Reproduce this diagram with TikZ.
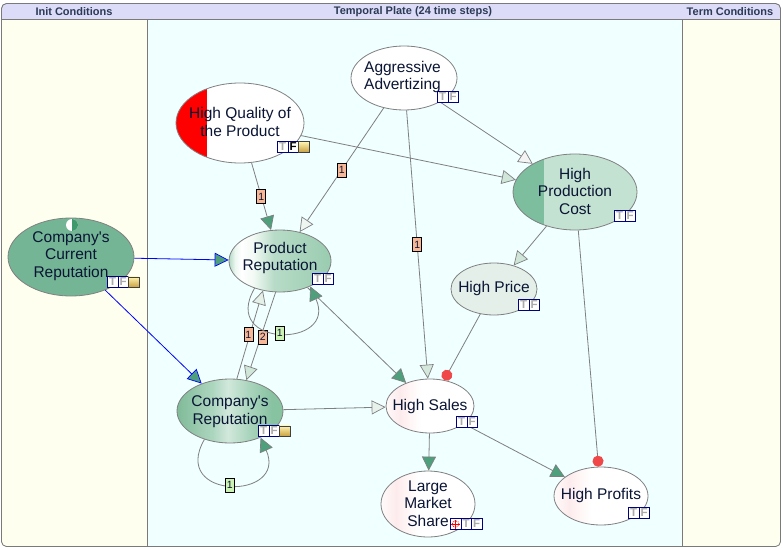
\documentclass[tikz,border=0pt]{standalone}
\usepackage{fontspec}
\setmainfont{Liberation Sans}
\usetikzlibrary{arrows.meta,shapes.geometric}
\definecolor{framegray}{HTML}{7A7A7A}
\definecolor{hdr}{HTML}{DCDCF8}
\definecolor{hdrtxt}{HTML}{2B3A55}
\definecolor{ivorybg}{HTML}{FFFFF0}
\definecolor{azurebg}{HTML}{F0FFFF}
\definecolor{ellgray}{HTML}{808080}
\definecolor{edgegray}{HTML}{7F7F7F}
\definecolor{tgreen}{HTML}{4E9F7C}
\definecolor{txt}{HTML}{0A1535}
\definecolor{salmon}{HTML}{F8B898}
\definecolor{lgreen}{HTML}{CCF2B4}
\definecolor{navyc}{HTML}{000080}
\definecolor{dotred}{HTML}{F04848}
\definecolor{ccrfill}{HTML}{74B595}
\definecolor{hpcdark}{HTML}{7DBE9F}
\definecolor{hpclight}{HTML}{C4E2D2}
\definecolor{hpfill}{HTML}{E3EFE8}
\definecolor{tfgray}{HTML}{AAAAAA}
\definecolor{notetop}{HTML}{FFF4B0}
\definecolor{notebot}{HTML}{C8A040}
\definecolor{icongreen}{HTML}{3E9A6C}
\definecolor{tipA}{HTML}{CFE6D9}
\definecolor{tipB}{HTML}{EEF6F2}
\definecolor{tipC}{HTML}{D4E8DC}
\definecolor{tipD}{HTML}{F4F4F4}
\definecolor{tipE}{HTML}{CFE5D8}
\definecolor{tipF}{HTML}{E8F2EC}
\definecolor{tipG}{HTML}{E4F0E8}
\definecolor{tipH}{HTML}{D0E6D8}
\pgfdeclarehorizontalshading{prshade}{100bp}{rgb(0bp)=(0.70,0.85,0.77); rgb(25bp)=(0.70,0.85,0.77); rgb(28bp)=(0.93,0.97,0.95); rgb(31bp)=(1,1,1); rgb(37bp)=(0.95,0.98,0.96); rgb(47bp)=(0.72,0.86,0.78); rgb(75bp)=(0.60,0.80,0.69); rgb(100bp)=(0.60,0.80,0.69)}
\pgfdeclarehorizontalshading{crshade}{100bp}{rgb(0bp)=(0.50,0.73,0.60); rgb(25bp)=(0.50,0.73,0.60); rgb(42bp)=(0.68,0.84,0.75); rgb(49bp)=(0.82,0.91,0.86); rgb(58bp)=(0.68,0.84,0.75); rgb(70bp)=(0.53,0.76,0.63); rgb(100bp)=(0.53,0.76,0.63)}
\pgfdeclarehorizontalshading{pinkshade}{100bp}{rgb(0bp)=(1,0.98,0.98); rgb(25bp)=(1,0.98,0.98); rgb(33bp)=(0.99,0.92,0.93); rgb(38bp)=(1,0.96,0.96); rgb(45bp)=(1,1,1); rgb(100bp)=(1,1,1)}
\newcommand\nodefont{\fontsize{15.5}{17.5}\selectfont}
\newcommand\labfont{\fontsize{10.5}{12}\selectfont}
\newcommand\hdrfont{\bfseries\fontsize{11}{13}\selectfont}
\newcommand\tffont{\bfseries\fontsize{11.5}{11.5}\selectfont}
\newcommand\tfbox[4]{\node[tfcell,anchor=west] (#1T) at (#2,#3) {T};\node[tfcell,anchor=west,text=#4] (#1F) at (#2+10.5,#3) {F};}
\newcommand\stickynote[3]{\node[noteicon,anchor=west] (#1) at (#2,#3) {};}
\tikzset{
  ell/.style={ellipse, draw=ellgray, line width=0.8pt, inner sep=0pt},
  ntext/.style={align=center, text=txt, font=\nodefont, inner sep=0pt},
  link/.style={draw=edgegray, line width=0.8pt},
  bluelink/.style={draw=blue, line width=0.8pt},
  tri/.style={-{Triangle[length=14pt,width=14pt,fill=#1,line width=0.7pt]}},
  reddot/.style={-{Circle[length=11pt,color=dotred,fill=dotred]}},
  lab/.style={draw=black, line width=0.6pt, fill=#1, font=\labfont, text=txt, inner sep=0pt, minimum width=9pt, minimum height=14pt},
  tfcell/.style={rectangle, draw=navyc, line width=0.7pt, fill=white, minimum width=10.5pt, minimum height=10.5pt, inner sep=0pt, font=\tffont, text=tfgray},
  noteicon/.style={rectangle, minimum width=10.5pt, minimum height=10.5pt, inner sep=0pt, top color=notetop, bottom color=notebot, draw=black!75, line width=0.5pt},
  hdrtext/.style={font=\hdrfont, text=hdrtxt, inner sep=0pt}
}
\begin{document}
\begin{tikzpicture}[x=1pt,y=-1pt]
\useasboundingbox (0,0) rectangle (783,548);
% frame and columns
\draw[framegray, fill=hdr, rounded corners=5pt] (1.5,546.5) rectangle (780.5,3.5);
\fill[ivorybg] (2,19.5) rectangle (147.5,546);
\fill[azurebg] (147.5,19.5) rectangle (682.5,546);
\fill[ivorybg] (682.5,19.5) rectangle (780,546);
\draw[framegray, line width=0.8pt] (1.5,19.5) -- (780.5,19.5);
\draw[framegray, line width=0.8pt] (147.5,19.5) -- (147.5,546.5);
\draw[framegray, line width=0.8pt] (682.5,19.5) -- (682.5,546.5);
\draw[framegray, line width=0.8pt, rounded corners=5pt] (1.5,546.5) rectangle (780.5,3.5);
\node[hdrtext] (h1) at (74,11.5) {Init Conditions};
\node[hdrtext] (h2) at (413,11.5) {Temporal Plate (24 time steps)};
\node[hdrtext] (h3) at (730,11.5) {Term Conditions};
% nodes
\node[ell, minimum width=126pt, minimum height=78pt, fill=ccrfill] (ccr) at (71,257) {};
\node[ntext] (ccr-t) at (71,256) {Company\textquotesingle s\\Current\\Reputation};
\node[ell, minimum width=102pt, minimum height=62pt, shade, shading=prshade] (pr) at (280,261) {};
\node[ntext] (pr-t) at (280,258) {Product\\Reputation};
\node[ell, minimum width=128pt, minimum height=80pt, fill=white,
  path picture={\fill[red] (path picture bounding box.south west) rectangle ([xshift=31pt]path picture bounding box.north west);}] (hq) at (240,123) {};
\node[ntext] (hq-t) at (240,122) {High Quality of\\the Product};
\node[ell, minimum width=106pt, minimum height=64pt, fill=white] (aa) at (404,78) {};
\node[ntext] (aa-t) at (402.5,77) {Aggressive\\Advertizing};
\node[ell, minimum width=124pt, minimum height=76pt, fill=hpclight,
  path picture={\fill[hpcdark] (path picture bounding box.south west) rectangle ([xshift=31pt]path picture bounding box.north west);}] (hpc) at (575,192) {};
\node[ntext] (hpc-t) at (575,191) {High\\Production\\Cost};
\node[ell, minimum width=86pt, minimum height=52pt, fill=hpfill] (hp) at (494,289) {};
\node[ntext] (hp-t) at (494,288) {High Price};
\node[ell, minimum width=106pt, minimum height=64pt, shade, shading=crshade] (cr) at (230,411) {};
\node[ntext] (cr-t) at (230,411.5) {Company\textquotesingle s\\Reputation};
\node[ell, minimum width=88pt, minimum height=54pt, shade, shading=pinkshade] (hs) at (430,406) {};
\node[ntext] (hs-t) at (430,406) {High Sales};
\node[ell, minimum width=94pt, minimum height=66pt, shade, shading=pinkshade] (lms) at (428,504) {};
\node[ntext] (lms-t) at (428,503.5) {Large\\Market\\Share};
\node[ell, minimum width=94pt, minimum height=58pt, shade, shading=pinkshade] (hpro) at (601,496) {};
\node[ntext] (hpro-t) at (601,495) {High Profits};
% edges
\draw[bluelink, tri=tgreen] (ccr) -- (pr);
\draw[bluelink, tri=tgreen] (ccr) -- (cr);
\draw[link, tri=tgreen] (hq) -- node[lab=salmon] (l1) {1} (pr);
\draw[link, tri=tipA] (hq) -- (hpc);
\draw[link, tri=tipB] (aa) -- node[lab=salmon] (l2) {1} (pr);
\draw[link, tri=tipC] (aa) -- node[lab=salmon] (l3) {1} (hs);
\draw[link, tri=tipD] (aa) -- (hpc);
\draw[link, tri=tipE] (hpc) -- (hp);
\draw[link, reddot] (hpc) -- (hpro);
\draw[link, reddot] (hp) -- (hs);
\draw[link, tri=tgreen] (pr) -- (hs);
\draw[link, tri=tipF] (cr) -- (hs);
\draw[link, tri=tgreen] (hs) -- (lms);
\draw[link, tri=tgreen] (hs) -- (hpro);
\draw[link, tri=tipG] (cr.78) -- node[lab=salmon, pos=0.5, xshift=-1.5pt] (l4) {1} (pr.240);
\draw[link, tri=tipH] (pr.262) -- node[lab=salmon, pos=0.51, xshift=2pt] (l5) {2} (cr.62);
\draw[link, tri=tgreen] (pr.227) .. controls +(-35,60) and +(28,62) .. node[lab=lgreen, pos=0.5] (l6) {1} (pr.320);
\draw[link, tri=tgreen] (cr.228) .. controls +(-35,61) and +(28,63) .. node[lab=lgreen, pos=0.5] (l7) {1} (cr.319);
% icons
\node[circle, minimum size=12pt, inner sep=0pt, fill=white,
  path picture={\fill[icongreen] (path picture bounding box.north) rectangle (path picture bounding box.south east);}] (ccrI) at (72,225) {};
\tfbox{ccrA}{107}{282}{tfgray}\stickynote{ccrN}{128}{282}
\tfbox{prA}{312}{279}{tfgray}
\tfbox{hqA}{277}{147}{black}\stickynote{hqN}{298}{147}
\tfbox{aaA}{437}{97}{tfgray}
\tfbox{hpcA}{614}{216}{tfgray}
\tfbox{hpA}{518}{305}{tfgray}
\tfbox{crA}{258}{431}{tfgray}\stickynote{crN}{279}{431}
\tfbox{hsA}{456}{422}{tfgray}
\tfbox{lmsA}{460.5}{524}{tfgray}
\node[tfcell, anchor=west, draw=none, path picture={\draw[red, densely dotted, line width=0.8pt] (path picture bounding box.center) circle (3.3pt); \draw[red, line width=0.6pt] ([xshift=-4.5pt]path picture bounding box.center) -- ([xshift=4.5pt]path picture bounding box.center); \draw[red, line width=0.6pt] ([yshift=-4.5pt]path picture bounding box.center) -- ([yshift=4.5pt]path picture bounding box.center);}] (lmsX) at (450,524) {};
\draw[navyc, line width=0.7pt] (lmsX.north west) rectangle (lmsX.south east);
\tfbox{hproA}{628}{513}{tfgray}
\end{tikzpicture}
\end{document}
